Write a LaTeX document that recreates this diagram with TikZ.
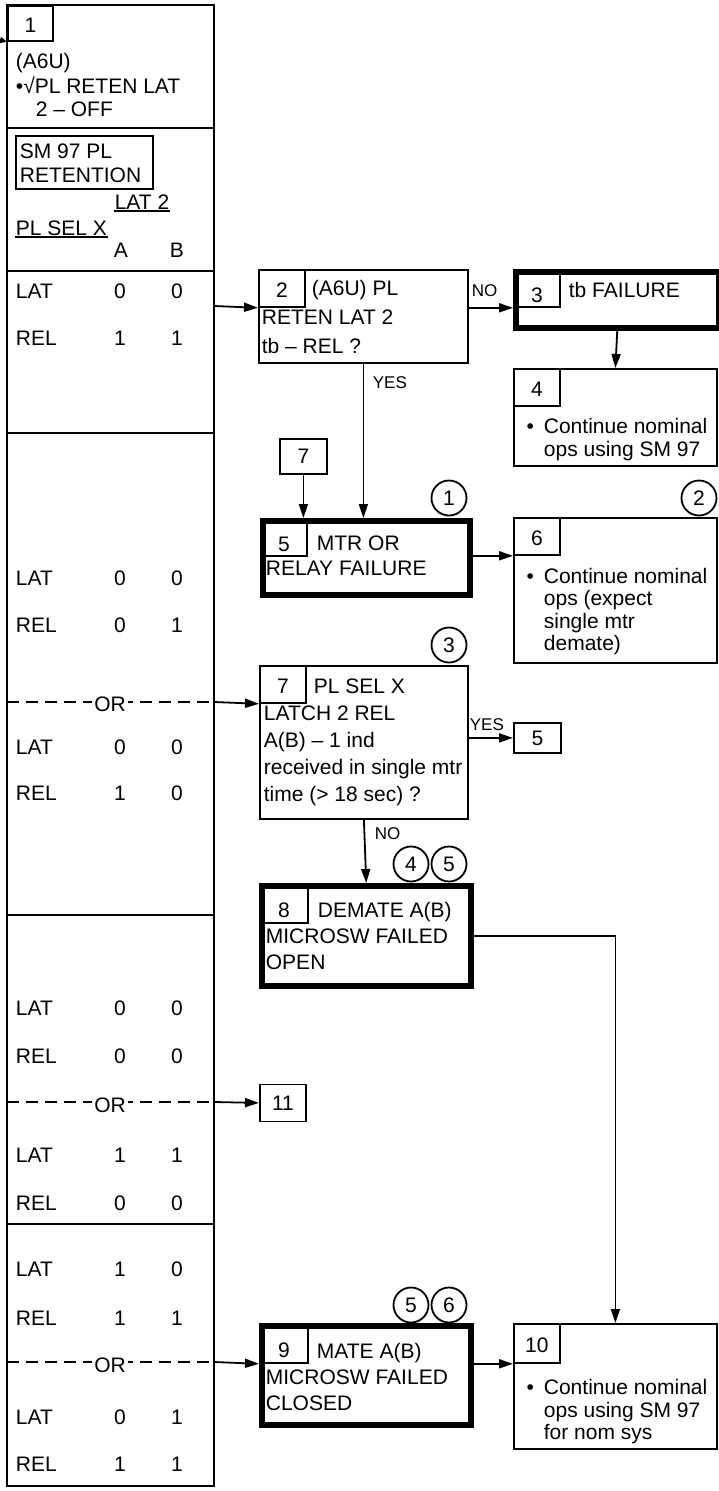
\documentclass[tikz,border=0pt]{standalone}
\usepackage{fontspec}
\setmainfont{Liberation Sans}
\usetikzlibrary{arrows.meta}

\tikzset{
  box/.style={draw, anchor=north west, inner sep=0pt},
  failbox/.style={box, line width=5.5pt},
  lbl/.style={draw, anchor=north west, inner sep=0pt, minimum width=46pt, minimum height=37pt,
              text height=18pt, text depth=0pt},
  flbl/.style={lbl, text height=29pt},
  txt/.style={anchor=north west, align=left, inner sep=0pt, font=\fontsize{21}{#1}\selectfont},
  txt/.default=26,
  cnum/.style={draw, circle, minimum size=35pt, inner sep=0pt},
  yn/.style={anchor=base west, inner sep=0pt, font=\fontsize{17}{20}\selectfont},
  cell/.style={anchor=base, inner sep=0pt},
  tbl/.style={line width=2.2pt},
  orline/.style={tbl, dash pattern=on 12pt off 7pt},
  ortext/.style={fill=white, inner sep=2pt},
}

\begin{document}
\begin{tikzpicture}[x=1pt, y=-1pt, line width=1.8pt,
    >={Triangle[length=14pt,width=9pt]}, font=\fontsize{21}{26}\selectfont]
  \useasboundingbox (0,0) rectangle (718,1491);

  % ── Left column: step 1 and the SM 97 table ─────────────────
  \draw[tbl] (7,5) rectangle (214,1486);
  \foreach \y in {128, 271, 433, 915, 1224}
    \draw[tbl] (7,\y) -- (214,\y);
  \node[lbl, minimum width=45pt, minimum height=35pt] (l1) at (7,5) {1};
  \coordinate (in1) at (0,40);
  \draw[-{Triangle[length=7pt,width=6pt]}] (in1) -- (l1.south west);
  \node[txt=23.5] (t1) at (15,51) {\strut(A6U)\\•√PL RETEN LAT\\\hspace*{20pt}2 – OFF};
  \node[box, minimum width=137pt, minimum height=53pt] (sm) at (15,135) {};
  \node[txt=24] (tsm) at (19,141) {\strut SM 97 PL\\RETENTION};
  \node[cell] (lat2) at (142,209) {LAT 2};
  \node[cell, anchor=base west] (plsel) at (15,235) {PL SEL X};
  \draw[tbl] ([yshift=-2pt]lat2.base west) -- ([yshift=-2pt]lat2.base east);
  \draw[tbl] ([yshift=-2pt]plsel.base west) -- ([yshift=-2pt]plsel.base east);
  \node[cell] (ha) at (121,257) {A};
  \node[cell] (hb) at (177,257) {B};
  % table rows: baseline / word / A / B
  \foreach \y/\w/\a/\b in {298/LAT/0/0, 345/REL/1/1, 585/LAT/0/0, 632/REL/0/1,
      754/LAT/0/0, 800/REL/1/0, 1015/LAT/0/0, 1063/REL/0/0, 1162/LAT/1/1,
      1210/REL/0/0, 1276/LAT/1/0, 1325/REL/1/1, 1424/LAT/0/1, 1471/REL/1/1} {
    \node[cell, anchor=base west] (cw\y) at (15,\y) {\w};
    \node[cell] (ca\y) at (120,\y) {\a};
    \node[cell] (cb\y) at (177,\y) {\b};
  }

  % ── Step 2, 3, 4 ──────────────────────────────────────────────
  \node[box, minimum width=209pt, minimum height=93pt] (b2) at (258,269) {};
  \node[lbl] (l2) at (258,269) {2};
  \node[txt=29] (t2) at (261,274.2) {\strut\hspace*{50pt}(A6U) PL\\RETEN LAT 2\\tb – REL ?};
  \node[failbox, minimum width=203pt, minimum height=56pt] (b3) at (513,269) {};
  \node[flbl] (l3) at (513,269) {3};
  \node[cell, anchor=base west] (t3) at (568,297) {tb FAILURE};
  \node[yn] (no2) at (471,296) {NO};
  \node[box, minimum width=203pt, minimum height=97pt] (b4) at (513,368) {};
  \node[lbl] (l4) at (513,368) {4};
  \node[txt=23] (t4) at (543,416.5) {\strut\llap{•\hspace{10pt}}Continue nominal\\ops using SM 97};
  \node[yn] (yes2) at (372,388) {YES};

  % ── Step 5, 6 ─────────────────────────────────────────────────
  \node[box, minimum width=47pt, minimum height=35pt] (r7) at (279,438) {7};
  \node[failbox, minimum width=207pt, minimum height=74pt] (b5) at (260,518) {};
  \node[flbl] (l5) at (260,518) {5};
  \node[txt=25] (t5) at (265,532) {\strut\hspace*{51pt}MTR OR\\RELAY FAILURE};
  \node[cnum] (c1) at (449,498) {1};
  \node[box, minimum width=203pt, minimum height=145pt] (b6) at (513,517) {};
  \node[lbl] (l6) at (513,517) {6};
  \node[txt=22.5] (t6) at (543,566.8) {\strut\llap{•\hspace{10pt}}Continue nominal\\ops (expect\\single mtr\\demate)};
  \node[cnum] (c2) at (699,498) {2};

  % ── Step 7 ────────────────────────────────────────────────────
  \node[box, minimum width=208pt, minimum height=153pt] (b7) at (259,665) {};
  \node[lbl] (l7) at (259,665) {7};
  \node[txt=27] (t7) at (263,673.6) {\strut\hspace*{50pt}PL SEL X\\LATCH 2 REL\\A(B) – 1 ind\\received in single mtr\\time (> 18 sec) ?};
  \node[cnum] (c3) at (449,645) {3};
  \node[box, minimum width=47pt, minimum height=30pt] (r5) at (513,722) {5};
  \node[yn] (yes7) at (469,730) {YES};
  \node[yn] (no7) at (374,839) {NO};

  % ── Step 8, 11 ────────────────────────────────────────────────
  \node[failbox, minimum width=209pt, minimum height=100pt] (b8) at (259,883) {};
  \node[flbl, minimum width=48pt, minimum height=39pt] (l8) at (259,883) {8};
  \node[txt=26] (t8) at (265,898.3) {\strut\hspace*{52pt}DEMATE A(B)\\MICROSW FAILED\\OPEN};
  \node[cnum] (c4) at (411,864) {4};
  \node[cnum] (c5) at (449,864) {5};
  \node[box, minimum width=46pt, minimum height=37pt] (r11) at (259,1083.5) {11};

  % ── Step 9, 10 ────────────────────────────────────────────────
  \node[failbox, minimum width=209pt, minimum height=99pt] (b9) at (259,1323) {};
  \node[flbl, minimum width=48pt, minimum height=39pt] (l9) at (259,1323) {9};
  \node[txt=26] (t9) at (265,1339.3) {\strut\hspace*{51pt}MATE A(B)\\MICROSW FAILED\\CLOSED};
  \node[cnum] (c5b) at (411,1305) {5};
  \node[cnum] (c6) at (449,1305) {6};
  \node[box, minimum width=203pt, minimum height=125pt] (b10) at (513,1323) {};
  \node[lbl, minimum height=39pt] (l10) at (513,1323) {10};
  \node[txt=22.5] (t10) at (543,1378) {\strut\llap{•\hspace{10pt}}Continue nominal\\ops using SM 97\\for nom sys};

  % ── OR branches out of the table ──────────────────────────────
  \coordinate (e2) at (214,306);
  \draw[->] (e2) -- (l2.south west);
  \coordinate (or7) at (214,702);
  \draw[orline] (7,702) -- (or7);
  \node[ortext] (ort7) at (110,704) {OR};
  \draw[->] (or7) -- (l7.south west);
  \coordinate (or11) at (214,1102);
  \draw[orline] (7,1102) -- (or11);
  \node[ortext] (ort11) at (110,1105) {OR};
  \draw[->] (or11) -- (r11.west);
  \coordinate (or9) at (214,1362);
  \draw[orline] (7,1362) -- (or9);
  \node[ortext] (ort9) at (110,1365) {OR};
  \draw[->] (or9) -- (l9.south west);

  % ── Connectors ────────────────────────────────────────────────
  \draw[->] (b2.east |- l2.south) -- (l3.south west);
  \draw[->] (b3.south) -- (b4.north);
  \draw[->] (b2.south) -- (b2.south |- b5.north);
  \draw[->] (r7.south) -- (r7.south |- b5.north);
  \draw[->] (b5.east |- l6.south) -- (l6.south west);
  \draw[->] (b7.east |- r5.west) -- (r5.west);
  \draw[->] (b7.south) -- (b8.north);
  \draw[->] (b8.east) -| (b10.north);
  \draw[->] (b9.east |- l10.south) -- (l10.south west);
\end{tikzpicture}
\end{document}
